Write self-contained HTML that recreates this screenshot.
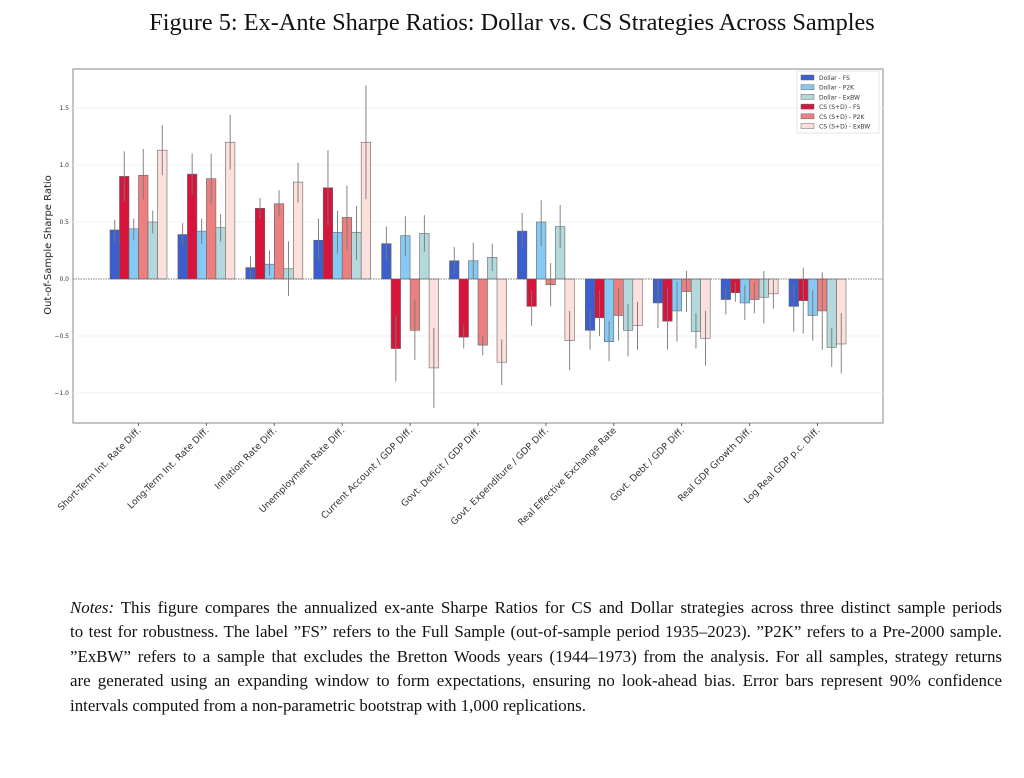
<!DOCTYPE html>
<html><head><meta charset="utf-8"><style>
body{margin:0;background:#fff;width:1024px;height:778px;overflow:hidden;position:relative}
#t{position:absolute;top:9px;left:0;width:1024px;text-align:center;font-family:"Liberation Serif",serif;font-size:24.3px;color:#111}
#n{position:absolute;top:596px;left:70px;width:932px;font-family:"Liberation Serif",serif;font-size:16.9px;line-height:24.4px;color:#111}
#n span{display:block;white-space:nowrap;text-align:justify;text-align-last:justify}
#n span.l{text-align-last:left}
svg{position:absolute;left:0;top:0}
</style></head><body>
<div id="t">Figure 5: Ex-Ante Sharpe Ratios: Dollar vs. CS Strategies Across Samples</div>
<svg id="s" width="1024" height="560" font-family="DejaVu Sans, sans-serif"></svg>
<div id="n"><span><i>Notes:</i> This figure compares the annualized ex-ante Sharpe Ratios for CS and Dollar strategies across three distinct sample periods</span><span>to test for robustness. The label ”FS” refers to the Full Sample (out-of-sample period 1935–2023). ”P2K” refers to a Pre-2000 sample.</span><span>”ExBW” refers to a sample that excludes the Bretton Woods years (1944–1973) from the analysis. For all samples, strategy returns</span><span>are generated using an expanding window to form expectations, ensuring no look-ahead bias. Error bars represent 90% confidence</span><span class="l">intervals computed from a non-parametric bootstrap with 1,000 replications.</span></div>
<script>
var s=document.getElementById('s'),h='';
var Z=279,U=114,L=73,T=69,R=883,B=423;
function y(v){return Z-v*U}
h+='<rect x="'+L+'" y="'+T+'" width="'+(R-L)+'" height="'+(B-T)+'" fill="#fff" stroke="#888" stroke-width="1"/>';
[[1.5,'1.5'],[1,'1.0'],[0.5,'0.5'],[0,'0.0'],[-0.5,'\u22120.5'],[-1,'\u22121.0']].forEach(function(a){var v=a[0];if(v!=0)h+='<line x1="'+L+'" x2="'+R+'" y1="'+y(v)+'" y2="'+y(v)+'" stroke="#f0f0f0"/>';
h+='<text x="'+(L-4)+'" y="'+(y(v)+2)+'" font-size="6" text-anchor="end" fill="#333">'+a[1]+'</text>';});
h+='<text transform="translate(51,245) rotate(-90)" font-size="10" text-anchor="middle" fill="#222">Out-of-Sample Sharpe Ratio</text>';
var cols=['#3b5fcf','#d7143c','#87c9f5','#ec8080','#b3d9dc','#fde0dc'];
var D=[[0.43,0.90,0.44,0.91,0.50,1.13],[0.39,0.92,0.42,0.88,0.45,1.20],[0.10,0.62,0.13,0.66,0.09,0.85],[0.34,0.80,0.41,0.54,0.41,1.20],[0.31,-0.61,0.38,-0.45,0.40,-0.78],[0.16,-0.51,0.16,-0.58,0.19,-0.73],[0.42,-0.24,0.50,-0.05,0.46,-0.54],[-0.45,-0.34,-0.55,-0.32,-0.45,-0.41],[-0.21,-0.37,-0.28,-0.11,-0.46,-0.52],[-0.18,-0.12,-0.21,-0.18,-0.16,-0.13],[-0.24,-0.19,-0.32,-0.28,-0.60,-0.57]];
var E=[[[.32,.52],[.68,1.12],[.34,.53],[.7,1.14],[.4,.6],[.91,1.35]],[[.29,.49],[.74,1.1],[.31,.53],[.66,1.1],[.33,.57],[.96,1.44]],[[0,.2],[.53,.71],[.03,.25],[.55,.78],[-.15,.33],[.67,1.02]],[[.15,.53],[.47,1.13],[.22,.6],[.26,.82],[.17,.64],[.7,1.7]],[[.16,.46],[-.9,-.32],[.2,.55],[-.71,-.18],[.24,.56],[-1.13,-.43]],[[.05,.28],[-.61,-.4],[0,.32],[-.67,-.5],[.07,.31],[-.93,-.53]],[[.27,.58],[-.41,-.1],[.29,.69],[-.24,.14],[.27,.65],[-.8,-.28]],[[-.62,-.27],[-.5,-.1],[-.72,-.37],[-.54,-.08],[-.68,-.22],[-.62,-.2]],[[-.43,0],[-.62,-.07],[-.55,-.02],[-.29,.07],[-.61,-.3],[-.76,-.28]],[[-.31,-.07],[-.2,-.03],[-.36,-.05],[-.3,-.03],[-.39,.07],[-.26,-.01]],[[-.46,-.03],[-.48,.1],[-.54,-.1],[-.62,.06],[-.77,-.43],[-.83,-.3]]];
var N=['Short-Term Int. Rate Diff.','Long-Term Int. Rate Diff.','Inflation Rate Diff.','Unemployment Rate Diff.','Current Account / GDP Diff.','Govt. Deficit / GDP Diff.','Govt. Expenditure / GDP Diff.','Real Effective Exchange Rate','Govt. Debt / GDP Diff.','Real GDP Growth Diff.','Log Real GDP p.c. Diff.'];
var W=9.5,G=67.9,X0=110;
D.forEach(function(g,i){var x0=X0+i*G;g.forEach(function(v,j){var x=x0+j*W,top=Math.min(y(v),Z),hh=Math.abs(v)*U;
h+='<rect x="'+x+'" y="'+top+'" width="'+W+'" height="'+hh+'" fill="'+cols[j]+'" stroke="#666" stroke-width="0.6"/>';
var e=E[i][j],cx=x+W/2;h+='<line x1="'+cx+'" x2="'+cx+'" y1="'+y(e[0])+'" y2="'+y(e[1])+'" stroke="#777" stroke-width="0.9"/>';});
var tx=x0+3*W;h+='<line x1="'+tx+'" x2="'+tx+'" y1="'+B+'" y2="'+(B+3)+'" stroke="#666"/>';
h+='<text transform="translate('+(tx+3)+','+(B+8)+') rotate(-45)" font-size="9.2" text-anchor="end" fill="#333">'+N[i]+'</text>';});
h+='<line x1="'+L+'" x2="'+R+'" y1="'+Z+'" y2="'+Z+'" stroke="#555" stroke-width="0.8" stroke-dasharray="1.5,1"/>';
var lg=['Dollar - FS','Dollar - P2K','Dollar - ExBW','CS (S+D) - FS','CS (S+D) - P2K','CS (S+D) - ExBW'],lo=[0,2,4,1,3,5];
h+='<rect x="797" y="71" width="82" height="62" fill="#fff" stroke="#e4e4e4"/>';
lo.forEach(function(c,k){var yy=75+k*9.7;h+='<rect x="801" y="'+yy+'" width="13" height="5" fill="'+cols[c]+'" stroke="#666" stroke-width="0.5"/><text x="819" y="'+(yy+5)+'" font-size="6" fill="#333">'+lg[k]+'</text>';});
s.innerHTML=h;
</script>
</body></html>
